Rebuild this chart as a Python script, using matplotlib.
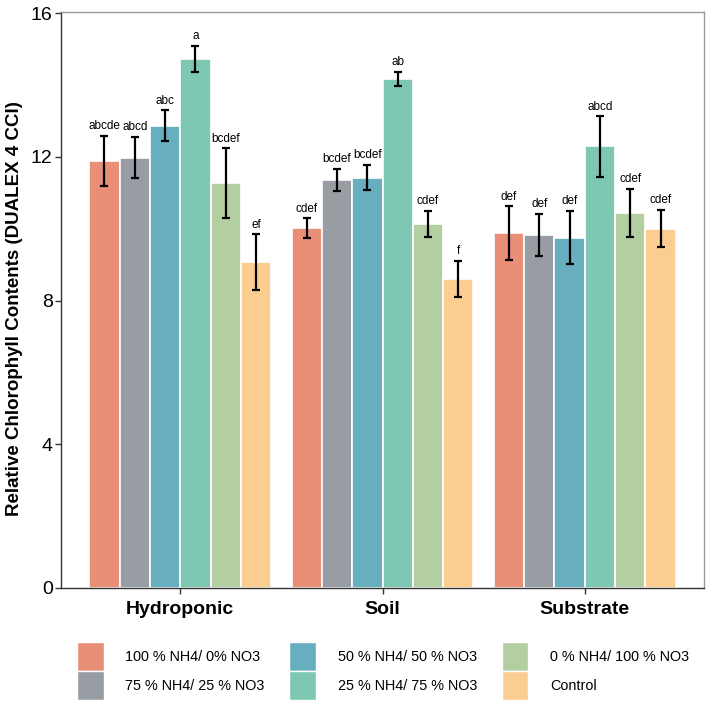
import numpy as np
import matplotlib
matplotlib.use("Agg")
import matplotlib.pyplot as plt
from matplotlib.patches import Patch

plt.rcParams['font.family'] = ['Liberation Sans', 'DejaVu Sans']

# data
groups = ['Hydroponic', 'Soil', 'Substrate']
treatments = ['100 % NH4/ 0% NO3', '75 % NH4/ 25 % NO3', '50 % NH4/ 50 % NO3',
              '25 % NH4/ 75 % NO3', '0 % NH4/ 100 % NO3', 'Control']
colors = ['#E98E77', '#989CA3', '#67AEBF', '#7EC7B3', '#B3CEA1', '#FBCD91']

means = {
    'Hydroponic': [11.88, 11.98, 12.87, 14.72, 11.27, 9.07],
    'Soil':       [10.02, 11.36, 11.42, 14.16, 10.13, 8.60],
    'Substrate':  [9.88, 9.83, 9.75, 12.29, 10.44, 10.00],
}
errs = {
    'Hydroponic': [0.70, 0.58, 0.43, 0.37, 0.97, 0.77],
    'Soil':       [0.27, 0.31, 0.35, 0.20, 0.36, 0.50],
    'Substrate':  [0.74, 0.58, 0.74, 0.84, 0.67, 0.52],
}
letters = {
    'Hydroponic': ['abcde', 'abcd', 'abc', 'a', 'bcdef', 'ef'],
    'Soil':       ['cdef', 'bcdef', 'bcdef', 'ab', 'cdef', 'f'],
    'Substrate':  ['def', 'def', 'def', 'abcd', 'cdef', 'cdef'],
}

fig = plt.figure(figsize=(7.13, 7.06), dpi=100)
ax = fig.add_axes([61/713, 1-588/706, (704-61)/713, (588-12)/706])

x = np.arange(1, len(groups) + 1)
n = len(treatments)
w = 0.9 / n

for j, t in enumerate(treatments):
    xs = x - 0.45 + w * (j + 0.5)
    m = [means[g][j] for g in groups]
    e = [errs[g][j] for g in groups]
    ax.bar(xs, m, width=w, color=colors[j], edgecolor='white', linewidth=1.2, zorder=2)
    ax.errorbar(xs, m, yerr=e, fmt='none', ecolor='black', elinewidth=1.6,
                capsize=3, capthick=1.6, zorder=3)
    for xi, mi, ei, g in zip(xs, m, e, groups):
        ax.text(xi, mi + ei + 0.1, letters[g][j], ha='center', va='bottom', fontsize=8.5)

ax.set_xlim(0.41, 3.59)
ax.set_ylim(0, 16.03)
ax.set_yticks([0, 4, 8, 12, 16])
ax.set_xticks(x)
ax.set_xticklabels(groups, fontsize=14, fontweight='bold')
ax.tick_params(axis='y', labelsize=14, length=4, width=1, color='#333333', pad=2)
ax.tick_params(axis='x', length=4, width=1, color='#333333', pad=5)
for s in ['left', 'bottom']:
    ax.spines[s].set_color('#333333')
    ax.spines[s].set_linewidth(1)
for s in ['top', 'right']:
    ax.spines[s].set_color('#999999')
    ax.spines[s].set_linewidth(1)

fig.text(15/713, 1-309/706, 'Relative Chlorophyll Contents (DUALEX 4 CCI)',
         rotation=90, ha='center', va='center', fontsize=13.5, fontweight='bold')

handles = [Patch(facecolor=c, edgecolor='white', linewidth=1) for c in colors]
fig.legend(handles, treatments, loc='upper center', bbox_to_anchor=(383/713, 1-642/706),
           ncol=3, frameon=False, fontsize=10.4, handlelength=1.85, handleheight=2.7,
           labelspacing=0.0, handletextpad=1.5, columnspacing=1.7, borderpad=0,
           borderaxespad=0)

fig.savefig('out.png', dpi=100)
